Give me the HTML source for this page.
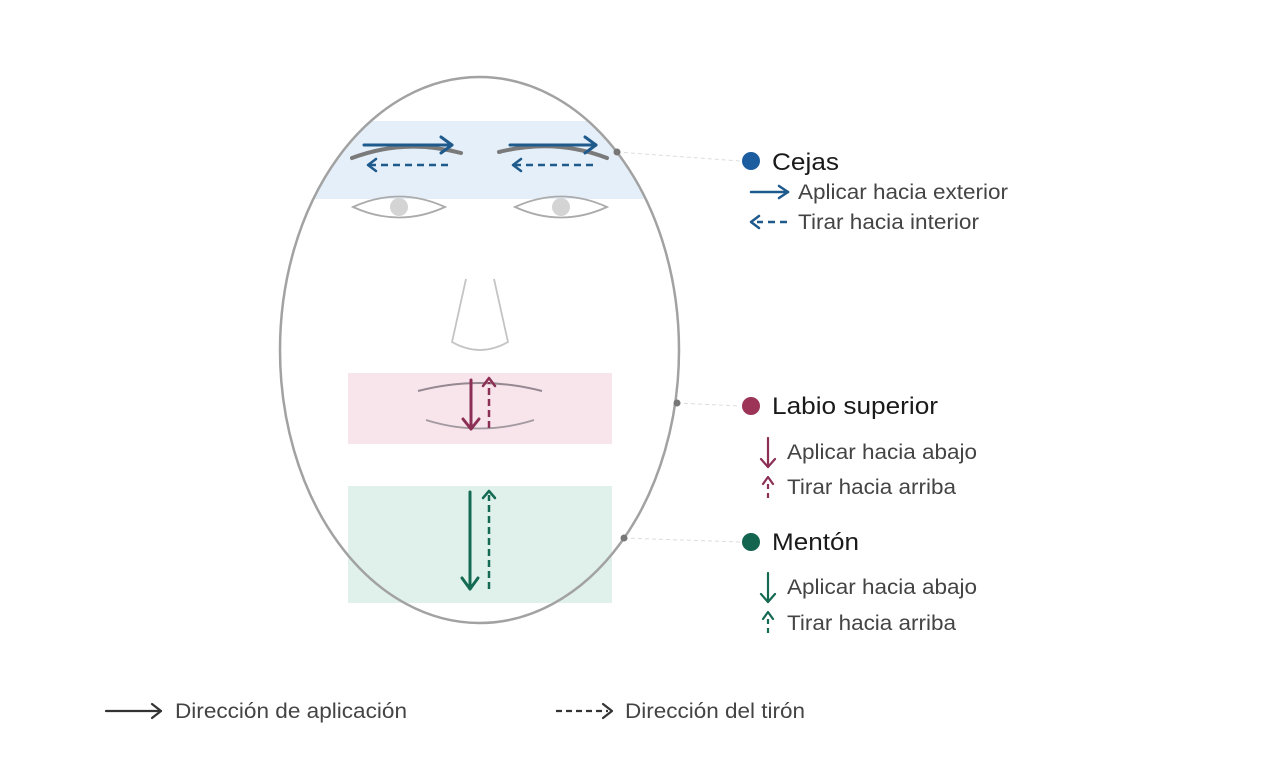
<!DOCTYPE html>
<html>
<head>
<meta charset="utf-8">
<style>
html,body{margin:0;padding:0;background:#fff;}
body{width:1280px;height:768px;overflow:hidden;}
svg{display:block;}
text{font-family:"Liberation Sans",Arial,sans-serif;}
</style>
</head>
<body>
<svg width="1280" height="768" viewBox="0 0 1280 768" xmlns="http://www.w3.org/2000/svg">
  <defs>
    <clipPath id="face">
      <ellipse cx="479.5" cy="350" rx="199.5" ry="273"/>
    </clipPath>
  </defs>
  <rect width="1280" height="768" fill="#fff"/>

  <!-- bands -->
  <rect x="300" y="121" width="360" height="78" fill="#e5eff9" clip-path="url(#face)"/>
  <rect x="348" y="373" width="264" height="71" fill="#f8e5ec"/>
  <rect x="348" y="486" width="264" height="117" fill="#e0f1ec"/>

  <!-- face outline -->
  <ellipse cx="479.5" cy="350" rx="199.5" ry="273" fill="none" stroke="#a2a2a2" stroke-width="2.5"/>

  <!-- eyebrows -->
  <path d="M352 158 Q405 138 461 153" fill="none" stroke="#7a7a7a" stroke-width="4" stroke-linecap="round"/>
  <path d="M499 152 Q555 138 607 158" fill="none" stroke="#7a7a7a" stroke-width="4" stroke-linecap="round"/>

  <!-- brow arrows -->
  <g stroke="#1f5a8c" stroke-width="3" fill="none" stroke-linecap="round" stroke-linejoin="round">
    <line x1="364" y1="145" x2="452" y2="145"/>
    <polyline points="441,137 452,145 441,153"/>
    <line x1="510" y1="145" x2="596" y2="145"/>
    <polyline points="585,137 596,145 585,153"/>
  </g>
  <g stroke="#1f5a8c" stroke-width="2.5" fill="none" stroke-linejoin="round">
    <line x1="448" y1="165" x2="370" y2="165" stroke-dasharray="7,5"/>
    <polyline points="376,159 368,165 376,171" stroke-linecap="round"/>
    <line x1="593" y1="165" x2="515" y2="165" stroke-dasharray="7,5"/>
    <polyline points="521,159 513,165 521,171" stroke-linecap="round"/>
  </g>

  <!-- eyes -->
  <path d="M353 207 Q399 186 445 207 Q399 228 353 207 Z" fill="none" stroke="#ababab" stroke-width="1.8"/>
  <circle cx="399" cy="207" r="9" fill="#d4d4d4"/>
  <path d="M515 207 Q561 186 607 207 Q561 228 515 207 Z" fill="none" stroke="#ababab" stroke-width="1.8"/>
  <circle cx="561" cy="207" r="9" fill="#d4d4d4"/>

  <!-- nose -->
  <path d="M466 279 L452 342 Q480 358 508 342 L494 279" fill="none" stroke="#c4c4c4" stroke-width="1.8"/>

  <!-- lips -->
  <path d="M418 391 Q480 375 542 391" fill="none" stroke="#958890" stroke-width="2"/>
  <path d="M426 420 Q480 437 534 420" fill="none" stroke="#a39aa0" stroke-width="1.8"/>

  <!-- lip arrows -->
  <g stroke="#8c2f55" fill="none" stroke-linecap="round" stroke-linejoin="round">
    <line x1="471" y1="380" x2="471" y2="429" stroke-width="3"/>
    <polyline points="463,419 471,429 479,419" stroke-width="3"/>
    <line x1="489" y1="428" x2="489" y2="382" stroke-width="2.5" stroke-dasharray="7,4" stroke-linecap="butt"/>
    <polyline points="483,386 489,378 495,386" stroke-width="2.5"/>
  </g>

  <!-- chin arrows -->
  <g stroke="#146a52" fill="none" stroke-linecap="round" stroke-linejoin="round">
    <line x1="470" y1="492" x2="470" y2="589" stroke-width="3"/>
    <polyline points="462,578 470,589 478,578" stroke-width="3"/>
    <line x1="489" y1="589" x2="489" y2="495" stroke-width="2.5" stroke-dasharray="7,4" stroke-linecap="butt"/>
    <polyline points="483,498 489,491 495,498" stroke-width="2.5"/>
  </g>

  <!-- connectors -->
  <g stroke="#dcdcdc" stroke-width="1" stroke-dasharray="4,3">
    <line x1="617" y1="152" x2="740" y2="161"/>
    <line x1="677" y1="403" x2="740" y2="406"/>
    <line x1="624" y1="538" x2="740" y2="542"/>
  </g>
  <circle cx="617" cy="152" r="3.5" fill="#777"/>
  <circle cx="677" cy="403" r="3.5" fill="#777"/>
  <circle cx="624" cy="538" r="3.5" fill="#777"/>

  <!-- legend: Cejas -->
  <circle cx="751" cy="161" r="9" fill="#1b5d9e"/>
  <text x="772" y="170" font-size="24" fill="#1a1a1a" textLength="67" lengthAdjust="spacingAndGlyphs">Cejas</text>
  <g stroke="#1f5a8c" stroke-width="2.5" fill="none" stroke-linecap="round" stroke-linejoin="round">
    <line x1="751" y1="192" x2="788" y2="192"/>
    <polyline points="779,186 788,192 779,198"/>
    <line x1="787" y1="222" x2="757" y2="222" stroke-dasharray="7,5" stroke-linecap="butt"/>
    <polyline points="759,216 751,222 759,228"/>
  </g>
  <text x="798" y="199" font-size="21" fill="#444" textLength="210" lengthAdjust="spacingAndGlyphs">Aplicar hacia exterior</text>
  <text x="798" y="229" font-size="21" fill="#444" textLength="181" lengthAdjust="spacingAndGlyphs">Tirar hacia interior</text>

  <!-- legend: Labio superior -->
  <circle cx="751" cy="406" r="9" fill="#9b3456"/>
  <text x="772" y="414" font-size="24" fill="#1a1a1a" textLength="166" lengthAdjust="spacingAndGlyphs">Labio superior</text>
  <g stroke="#8c2f55" stroke-width="2.2" fill="none" stroke-linecap="round" stroke-linejoin="round">
    <line x1="768" y1="438" x2="768" y2="467"/>
    <polyline points="761,459 768,467 775,459"/>
    <line x1="768" y1="484" x2="768" y2="501" stroke-dasharray="5,4" stroke-linecap="butt"/>
    <polyline points="763,484 768,477 773,484"/>
  </g>
  <text x="787" y="459" font-size="21" fill="#444" textLength="190" lengthAdjust="spacingAndGlyphs">Aplicar hacia abajo</text>
  <text x="787" y="494" font-size="21" fill="#444" textLength="169" lengthAdjust="spacingAndGlyphs">Tirar hacia arriba</text>

  <!-- legend: Mentón -->
  <circle cx="751" cy="542" r="9" fill="#14654f"/>
  <text x="772" y="550" font-size="24" fill="#1a1a1a" textLength="87" lengthAdjust="spacingAndGlyphs">Mentón</text>
  <g stroke="#146a52" stroke-width="2.2" fill="none" stroke-linecap="round" stroke-linejoin="round">
    <line x1="768" y1="573" x2="768" y2="602"/>
    <polyline points="761,594 768,602 775,594"/>
    <line x1="768" y1="619" x2="768" y2="637" stroke-dasharray="5,4" stroke-linecap="butt"/>
    <polyline points="763,619 768,612 773,619"/>
  </g>
  <text x="787" y="594" font-size="21" fill="#444" textLength="190" lengthAdjust="spacingAndGlyphs">Aplicar hacia abajo</text>
  <text x="787" y="630" font-size="21" fill="#444" textLength="169" lengthAdjust="spacingAndGlyphs">Tirar hacia arriba</text>

  <!-- bottom legend -->
  <g stroke="#333" stroke-width="2.2" fill="none" stroke-linecap="round" stroke-linejoin="round">
    <line x1="106" y1="711" x2="161" y2="711"/>
    <polyline points="152,704 161,711 152,718"/>
    <line x1="556" y1="711" x2="608" y2="711" stroke-dasharray="6,4" stroke-linecap="butt"/>
    <polyline points="603,704 612,711 603,718"/>
  </g>
  <text x="175" y="718" font-size="21" fill="#444" textLength="232" lengthAdjust="spacingAndGlyphs">Dirección de aplicación</text>
  <text x="625" y="718" font-size="21" fill="#444" textLength="180" lengthAdjust="spacingAndGlyphs">Dirección del tirón</text>
</svg>
</body>
</html>
